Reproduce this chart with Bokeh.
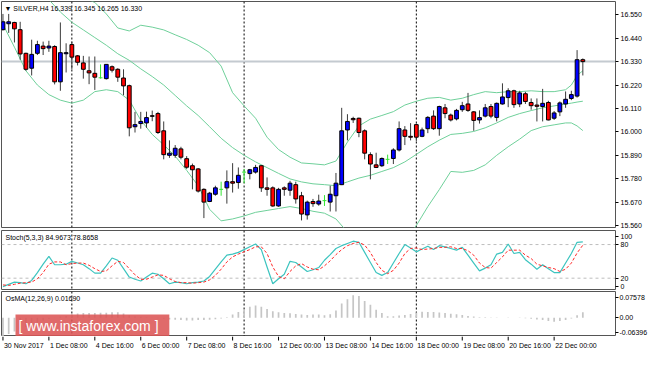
from bokeh.plotting import figure
from bokeh.models import (Range1d, FixedTicker, Span, Label, ColumnDataSource,
                          LinearAxis, NumeralTickFormatter, CustomJSTickFormatter)
from bokeh.layouts import column
from bokeh.core.properties import value
from bokeh.embed import file_html
from bokeh.resources import INLINE

# ---------------- data ----------------
symbol = "SILVER,H4"
bar_index = list(range(102))

opens = [16.480, 16.508, 16.514, 16.480, 16.369, 16.299, 16.369, 16.403, 16.394, 16.401,
         16.235, 16.367, 16.410, 16.357, 16.324, 16.287, 16.275, 16.254, 16.250, 16.306,
         16.294, 16.253, 16.217, 16.024, 16.039, 16.042, 16.076, 16.086, 16.005, 15.890,
         15.890, 15.920, 15.874, 15.841, 15.826, 15.730, 15.673, 15.707, 15.730, 15.737,
         15.766, 15.762, 15.811, 15.804, 15.811, 15.841, 15.737, 15.737, 15.652, 15.737,
         15.726, 15.752, 15.700, 15.610, 15.673, 15.661, 15.677, 15.670, 15.700, 15.752,
         16.009, 16.063, 16.064, 16.005, 15.893, 15.845, 15.841, 15.871, 15.875, 15.915,
         16.009, 15.979, 16.034, 15.979, 16.015, 16.074, 16.015, 16.113, 16.079, 16.061,
         16.104, 16.131, 16.094, 16.056, 16.074, 16.119, 16.068, 16.131, 16.161, 16.193,
         16.131, 16.179, 16.138, 16.126, 16.119, 16.138, 16.064, 16.094, 16.131, 16.157,
         16.168, 16.339]
highs = [16.554, 16.554, 16.517, 16.517, 16.372, 16.433, 16.428, 16.424, 16.428, 16.407,
         16.514, 16.416, 16.424, 16.361, 16.357, 16.354, 16.354, 16.317, 16.317, 16.312,
         16.299, 16.294, 16.222, 16.094, 16.094, 16.095, 16.100, 16.094, 16.049, 15.960,
         15.938, 15.930, 15.886, 15.851, 15.830, 15.735, 15.718, 15.747, 15.766, 15.819,
         15.853, 15.833, 15.826, 15.826, 15.845, 15.843, 15.786, 15.744, 15.737, 15.744,
         15.770, 15.766, 15.718, 15.677, 15.685, 15.705, 15.703, 15.747, 15.807, 16.113,
         16.083, 16.071, 16.067, 16.012, 15.904, 15.902, 15.880, 15.893, 15.923, 16.049,
         16.027, 16.041, 16.039, 16.020, 16.074, 16.101, 16.123, 16.131, 16.086, 16.108,
         16.141, 16.183, 16.098, 16.101, 16.131, 16.131, 16.138, 16.228, 16.205, 16.198,
         16.193, 16.188, 16.157, 16.157, 16.202, 16.146, 16.098, 16.143, 16.190, 16.193,
         16.384, 16.345]
lows = [16.476, 16.465, 16.420, 16.339, 16.287, 16.265, 16.361, 16.361, 16.376, 16.223,
        16.193, 16.279, 16.294, 16.312, 16.250, 16.224, 16.197, 16.250, 16.246, 16.279,
        16.235, 16.172, 15.979, 15.997, 16.015, 16.019, 16.050, 15.990, 15.871, 15.878,
        15.878, 15.871, 15.826, 15.730, 15.715, 15.595, 15.670, 15.700, 15.700, 15.663,
        15.715, 15.733, 15.759, 15.777, 15.804, 15.718, 15.700, 15.648, 15.648, 15.700,
        15.700, 15.663, 15.584, 15.588, 15.648, 15.653, 15.652, 15.626, 15.626, 15.750,
        15.960, 16.042, 15.975, 15.871, 15.777, 15.830, 15.835, 15.849, 15.849, 15.908,
        15.938, 15.960, 15.956, 15.975, 15.994, 16.009, 15.982, 16.064, 16.049, 16.054,
        16.094, 16.094, 16.005, 16.039, 16.068, 16.064, 16.049, 16.128, 16.116, 16.113,
        16.116, 16.131, 16.104, 16.049, 16.049, 16.054, 16.056, 16.074, 16.113, 16.149,
        16.161, 16.265]
closes = [16.517, 16.517, 16.484, 16.366, 16.294, 16.364, 16.410, 16.391, 16.403, 16.235,
          16.372, 16.372, 16.351, 16.327, 16.294, 16.277, 16.257, 16.254, 16.317, 16.290,
          16.257, 16.216, 16.019, 16.034, 16.049, 16.067, 16.073, 15.997, 15.893, 15.900,
          15.923, 15.881, 15.834, 15.822, 15.722, 15.670, 15.712, 15.737, 15.730, 15.766,
          15.759, 15.796, 15.811, 15.822, 15.833, 15.737, 15.730, 15.652, 15.730, 15.730,
          15.759, 15.685, 15.614, 15.670, 15.663, 15.675, 15.677, 15.707, 15.759, 16.005,
          16.049, 16.057, 15.997, 15.900, 15.849, 15.833, 15.875, 15.871, 15.915, 16.015,
          15.979, 15.975, 15.975, 16.009, 16.068, 16.015, 16.119, 16.086, 16.056, 16.101,
          16.123, 16.101, 16.054, 16.067, 16.113, 16.074, 16.134, 16.164, 16.193, 16.128,
          16.183, 16.143, 16.123, 16.120, 16.134, 16.056, 16.089, 16.136, 16.153, 16.175,
          16.339, 16.330]

band_index = list(range(0, 99, 2)) + [99, 100, 101]
bb_upper = [16.710, 16.702, 16.688, 16.675, 16.666, 16.657, 16.644, 16.630, 16.608, 16.554,
            16.488, 16.474, 16.501, 16.492, 16.479, 16.456, 16.434, 16.407, 16.372, 16.309,
            16.184, 16.122, 16.064, 15.975, 15.917, 15.881, 15.854, 15.850, 15.845, 15.863,
            15.952, 16.028, 16.060, 16.077, 16.095, 16.126, 16.144, 16.158, 16.162, 16.149,
            16.158, 16.175, 16.189, 16.184, 16.189, 16.189, 16.193, 16.189, 16.189, 16.198,
            16.220, 16.265, 16.287]
bb_middle = [16.733, 16.702, 16.675, 16.648, 16.621, 16.563, 16.515, 16.479, 16.443, 16.407,
             16.367, 16.336, 16.296, 16.260, 16.220, 16.171, 16.122, 16.077, 16.024, 15.970,
             15.926, 15.890, 15.859, 15.832, 15.805, 15.779, 15.765, 15.756, 15.752, 15.747,
             15.765, 15.783, 15.796, 15.814, 15.832, 15.859, 15.894, 15.930, 15.961, 15.988,
             15.993, 16.002, 16.019, 16.042, 16.068, 16.086, 16.100, 16.113, 16.122, 16.131,
             16.135, 16.140, 16.144]
bb_lower = [16.505, 16.398, 16.287, 16.220, 16.175, 16.149, 16.135, 16.149, 16.189, 16.198,
            16.189, 16.149, 16.055, 15.988, 15.939, 15.886, 15.819, 15.747, 15.636, 15.582,
            15.591, 15.605, 15.622, 15.631, 15.640, 15.649, 15.640, 15.627, 15.618, 15.591,
            15.529, 15.484, 15.444, 15.426, 15.440, 15.484, 15.560, 15.649, 15.729, 15.814,
            15.810, 15.819, 15.845, 15.890, 15.930, 15.966, 16.006, 16.024, 16.033, 16.042,
            16.042, 16.028, 16.006]

stoch_main = [5, 9, 13, 12, 10, 16, 30, 45, 59, 44,
              44, 45, 50, 47, 44, 37, 29, 29, 42, 56,
              52, 37, 22, 18, 15, 22, 29, 27, 19, 10,
              13, 12, 10, 12, 13, 15, 23, 36, 49, 61,
              63, 66, 71, 76, 81, 71, 40, 10, 19, 27,
              50, 48, 40, 32, 35, 39, 52, 62, 73, 78,
              82, 86, 84, 66, 48, 30, 25, 30, 47, 64,
              80, 74, 67, 72, 77, 71, 78, 76, 73, 70,
              75, 61, 47, 33, 38, 44, 63, 66, 81, 64,
              66, 53, 45, 36, 44, 37, 30, 30, 47, 64,
              84, 84.9673]
stoch_signal = [8, 7, 9, 11, 12, 13, 19, 30, 45, 49,
                49, 44, 46, 47, 47, 43, 37, 32, 33, 42,
                50, 48, 37, 26, 18, 18, 22, 26, 25, 19,
                14, 12, 12, 11, 12, 13, 17, 25, 36, 49,
                58, 63, 67, 71, 76, 76, 64, 40, 23, 19,
                32, 42, 46, 40, 36, 35, 42, 51, 62, 71,
                78, 82, 84, 79, 66, 48, 34, 28, 34, 47,
                64, 73, 74, 71, 72, 73, 75, 75, 76, 73,
                73, 69, 61, 47, 39, 38, 48, 58, 70, 70,
                70, 61, 55, 45, 42, 39, 37, 32, 36, 47,
                65, 78.8658]
osma = [-0.058, -0.050, -0.042, -0.035, -0.028, -0.021, -0.014, -0.008, -0.003, 0.001,
        0.004, 0.006, 0.011, 0.013, 0.015, 0.015, 0.015, 0.016, 0.016, 0.017,
        0.017, 0.013, 0.008, 0.004, 0.003, 0.002, 0.001, -0.001, -0.003, -0.005,
        -0.006, -0.007, -0.008, -0.008, -0.007, -0.007, -0.006, -0.004, -0.002, 0.002,
        0.010, 0.018, 0.025, 0.034, 0.038, 0.034, 0.027, 0.020, 0.017, 0.015,
        0.014, 0.012, 0.010, 0.009, 0.010, 0.010, 0.0079, 0.0108, 0.0226, 0.0442,
        0.0570, 0.0698, 0.0669, 0.0521, 0.0403, 0.0246, 0.0147, 0.0049, 0.0049, 0.0069,
        0.0088, 0.0118, 0.0167, 0.0187, 0.0177, 0.0177, 0.0167, 0.0147, 0.0128, 0.0108,
        0.0088, 0.0059, 0.0039, 0.0020, 0.0020, 0.0010, 0.0010, 0.0005, 0.0010, 0.0003,
        -0.0003, -0.0010, -0.0030, -0.0049, -0.0069, -0.0098, -0.0118, -0.0098, -0.0069, -0.0020,
        0.0079, 0.0169]

week_separators = [12, 42, 72]
bid_price = 16.330
price_ticks = [15.560, 15.670, 15.780, 15.890, 16.000, 16.110, 16.220, 16.330, 16.440, 16.550]
date_tick_index = [0, 8, 16, 24, 32, 40, 48, 56, 64, 72, 80, 88, 96]
date_tick_labels = ["30 Nov 2017", "1 Dec 08:00", "4 Dec 16:00", "6 Dec 00:00", "7 Dec 08:00",
                    "8 Dec 16:00", "12 Dec 00:00", "13 Dec 08:00", "14 Dec 16:00",
                    "18 Dec 00:00", "19 Dec 08:00", "20 Dec 16:00", "22 Dec 00:00"]
stoch_levels = [20, 80]
stoch_tick_pos = [6, 20, 80, 95]
stoch_tick_labels = ["0", "20", "80", "100"]
osma_tick_pos = [-0.0457, 0.0, 0.0634]
osma_tick_labels = ["-0.06396", "0.00", "0.07578"]
watermark = "[  www.instaforex.com  ]"

# ---------------- styling ----------------
FONT = "Liberation Sans"
FS = "7px"
FW = 614
BB_COLOR = "#6fd09a"
OUTLINE = "#555555"
xr = Range1d(-0.254, 106.69)


def make(fh, yr, top, bottom, outline=True, separators=True):
    p = figure(frame_width=FW, frame_height=fh, x_range=xr, y_range=yr,
               output_backend="svg", toolbar_location=None,
               x_axis_location=None, y_axis_location=None,
               min_border_left=1, min_border_right=33,
               min_border_top=top, min_border_bottom=bottom,
               background_fill_color="white", border_fill_color="white")
    p.grid.visible = False
    p.outline_line_color = OUTLINE if outline else None
    p.outline_line_width = 1
    if separators:
        for s in week_separators:
            p.add_layout(Span(location=s, dimension="height", line_color="black",
                              line_dash="2 2", line_width=1, level="underlay"))
    return p


def style_axis(ax, standoff=2):
    ax.major_label_text_font = FONT
    ax.major_label_text_font_size = FS
    ax.major_label_text_color = "black"
    ax.axis_line_color = None
    ax.major_tick_line_color = "black"
    ax.major_tick_in = 0
    ax.major_tick_out = 3
    ax.minor_tick_line_color = None
    ax.major_label_standoff = standoff


def pane_label(p, fh, text):
    p.add_layout(Label(x=4, y=fh - 7, x_units="screen", y_units="screen", text=text,
                       text_font=FONT, text_font_size=FS, text_color="black",
                       text_baseline="middle", text_align="left"))


# ---------------- main price pane ----------------
H1 = 226
p1 = make(H1, Range1d(15.5508, 16.6124), 1, 2)
ax1 = LinearAxis(ticker=FixedTicker(ticks=price_ticks),
                 formatter=NumeralTickFormatter(format="0.000"))
style_axis(ax1)
p1.add_layout(ax1, "right")

p1.add_layout(Span(location=bid_price, dimension="width", line_color="#c4cad0",
                   line_width=2, level="underlay"))

p1.line(band_index, bb_upper, line_color=BB_COLOR, line_width=1)
p1.line(band_index, bb_middle, line_color=BB_COLOR, line_width=1)
p1.line(band_index, bb_lower, line_color=BB_COLOR, line_width=1)

kind = ["doji" if o == c else ("bull" if c > o else "bear") for o, c in zip(opens, closes)]


def subset(k):
    ids = [i for i in bar_index if kind[i] == k]
    return ColumnDataSource(dict(
        x=ids,
        o=[opens[i] for i in ids], h=[highs[i] for i in ids],
        l=[lows[i] for i in ids], c=[closes[i] for i in ids],
        top=[max(opens[i], closes[i]) for i in ids],
        bottom=[min(opens[i], closes[i]) for i in ids],
        x0=[i - 0.34 for i in ids], x1=[i + 0.34 for i in ids]))


for k, col in (("bull", "#0000ff"), ("bear", "#ff0000")):
    src = subset(k)
    p1.segment(x0="x", y0="l", x1="x", y1="h", source=src, line_color="#3a3a3a", line_width=1)
    p1.vbar(x="x", top="top", bottom="bottom", width=0.66, source=src,
            fill_color=col, line_color="black", line_width=1)
dsrc = subset("doji")
p1.segment(x0="x", y0="l", x1="x", y1="h", source=dsrc, line_color="#33e633", line_width=1)
p1.segment(x0="x0", y0="o", x1="x1", y1="o", source=dsrc, line_color="#33e633", line_width=1)

title = "\u25bc " + symbol + " " + " ".join(
    f"{v:.3f}" for v in (opens[-1], highs[-1], lows[-1], closes[-1]))
p1.add_layout(Label(x=3, y=H1 - 7, x_units="screen", y_units="screen", text=title,
                    text_font=FONT, text_font_size=FS, text_color="black",
                    text_baseline="middle", text_align="left"))
p1.add_layout(Label(x=FW + 4, y=bid_price, x_units="screen", y_units="data",
                    text=f"{bid_price:.3f}", text_font=FONT, text_font_size=FS,
                    text_color="white", background_fill_color="black",
                    text_baseline="middle", text_align="left", padding=1))

# ---------------- stochastic pane ----------------
H2 = 60
p2 = make(H2, Range1d(-2.0, 105.1), 1, 0)
ax2 = LinearAxis(ticker=FixedTicker(ticks=stoch_tick_pos),
                 formatter=CustomJSTickFormatter(args=dict(labels=stoch_tick_labels),
                                                 code="return labels[index];"))
style_axis(ax2)
p2.add_layout(ax2, "right")
for lv in stoch_levels:
    p2.add_layout(Span(location=lv, dimension="width", line_color="#bdbdbd",
                       line_dash="3 3", line_width=1, level="underlay"))
p2.line(bar_index, stoch_main, line_color="#3cc4bf", line_width=1.2)
p2.line(bar_index, stoch_signal, line_color="#ff2a2a", line_width=1, line_dash="3 2")
pane_label(p2, H2, f"Stoch(5,3,3) {stoch_main[-1]:.4f} {stoch_signal[-1]:.4f}")

# ---------------- OsMA pane ----------------
H3 = 45
p3 = make(H3, Range1d(-0.0575, 0.0811), 1, 0)
ax3 = LinearAxis(ticker=FixedTicker(ticks=osma_tick_pos),
                 formatter=CustomJSTickFormatter(args=dict(labels=osma_tick_labels),
                                                 code="return labels[index];"))
style_axis(ax3, standoff=1)
p3.add_layout(ax3, "right")
p3.vbar(x=bar_index, top=osma, bottom=0, width=0.3, fill_color="#c6c6c6",
        line_color=None)
pane_label(p3, H3, f"OsMA(12,26,9) {osma[-1]:.5f}")
p3.add_layout(Label(x=14, y=11, x_units="screen", y_units="screen", text=watermark,
                    text_font=FONT, text_font_size="14px", text_color="white",
                    background_fill_color="#dc5555", background_fill_alpha=0.88,
                    text_baseline="middle", text_align="left", padding=3))

# ---------------- time scale strip ----------------
H4 = 16
p4 = make(H4, Range1d(0, 16), 0, 0, outline=False, separators=False)
n_dates = len(date_tick_index)
p4.segment(x0=date_tick_index, y0=[16] * n_dates, x1=date_tick_index, y1=[12] * n_dates,
           line_color="black", line_width=1)
src_dates = ColumnDataSource(dict(x=date_tick_index, y=[11] * n_dates, t=date_tick_labels))
p4.text(x="x", y="y", text="t", source=src_dates, text_font=value(FONT),
        text_font_size=value(FS), text_color="black",
        text_align="left", text_baseline="top", x_offset=1)

layout = column(p1, p2, p3, p4)
open("out.html", "w").write(file_html(layout, INLINE))
